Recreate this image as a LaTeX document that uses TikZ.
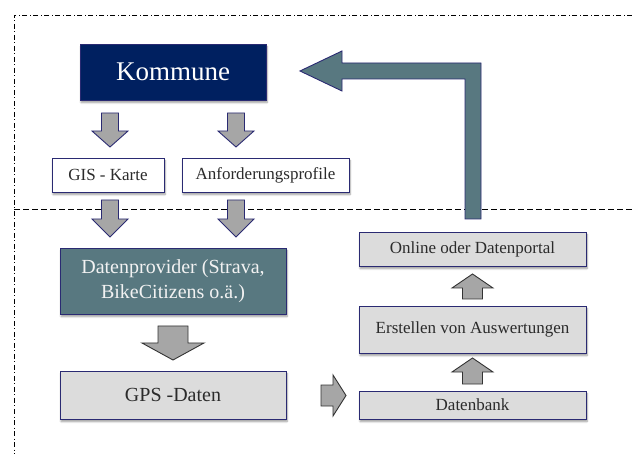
\documentclass[tikz,border=0pt]{standalone}
\usepackage{fontspec}
\setmainfont{Liberation Serif}
\usetikzlibrary{shadows.blur}
\definecolor{navy}{HTML}{002060}
\definecolor{edgeblue}{HTML}{2A2A72}
\definecolor{tealgray}{HTML}{587880}
\definecolor{arrowgray}{HTML}{A6A6A6}
\definecolor{boxgray}{HTML}{DCDCDC}
\definecolor{txt}{HTML}{2B2B2B}
\tikzset{
  box/.style={draw=edgeblue, line width=0.9pt, inner sep=0pt, align=center,
    blur shadow={shadow xshift=1pt, shadow yshift=-2.5pt, shadow blur steps=6, shadow opacity=40}},
  whitebox/.style={box, fill=white, text=txt, font=\fontsize{17}{20}\selectfont},
  graybox/.style={box, fill=boxgray, text=txt, font=\fontsize{17}{20}\selectfont},
  barrowb/.style={draw=edgeblue, fill=arrowgray, line width=0.9pt, line join=miter},
  barrowk/.style={draw=black!80, fill=arrowgray, line width=0.9pt, line join=miter},
}
\begin{document}
\begin{tikzpicture}[x=1pt,y=-1pt]
\useasboundingbox (0,0) rectangle (632,454);
% frame lines
\draw[black, line width=0.7pt, dash pattern=on 5pt off 2.5pt on 1pt off 2.5pt] (632,15) -- (14,15) -- (14,454);
\draw[black, line width=0.7pt, dash pattern=on 6pt off 3pt] (14,209) -- (632,209);
% boxes
\node[box, fill=navy, text=white, minimum width=186pt, minimum height=56pt, font=\fontsize{27}{30}\selectfont] (kom) at (173,72) {Kommune};
\node[whitebox, minimum width=112pt, minimum height=34pt] (gis) at (108,175) {GIS - Karte};
\node[whitebox, minimum width=167pt, minimum height=34pt] (anf) at (265.5,175) {Anforderungsprofile};
\node[box, fill=tealgray, text=white!95!black, minimum width=226pt, minimum height=66pt, font=\fontsize{20}{25}\selectfont] (dp) at (173,281) {Datenprovider (Strava,\\BikeCitizens o.ä.)};
\node[graybox, minimum width=226pt, minimum height=48pt, font=\fontsize{20}{24}\selectfont] (gps) at (173,395) {GPS -Daten};
\node[graybox, minimum width=227pt, minimum height=34pt] (onl) at (472.5,249) {Online oder Datenportal};
\node[graybox, minimum width=227pt, minimum height=47pt] (ers) at (472.5,329.5) {Erstellen von Auswertungen};
\node[graybox, minimum width=227pt, minimum height=28pt] (db) at (472.5,405) {Datenbank};
% down block arrows (top)
\foreach \cx in {110,236}{
  \draw[barrowb] (\cx-8.5,113) -- (\cx+8.5,113) -- (\cx+8.5,131) -- (\cx+18,131) -- (\cx,147) -- (\cx-18,131) -- (\cx-8.5,131) -- cycle;
  \draw[barrowb] (\cx-8.5,200) -- (\cx+8.5,200) -- (\cx+8.5,219) -- (\cx+18,219) -- (\cx,237) -- (\cx-18,219) -- (\cx-8.5,219) -- cycle;
}
% big down arrow
\draw[barrowk] (158,326) -- (188,326) -- (188,343) -- (204,343) -- (173,360) -- (142,343) -- (158,343) -- cycle;
% right arrow
\draw[barrowk] (321,385) -- (333,385) -- (333,375) -- (346,395.5) -- (333,416) -- (333,406) -- (321,406) -- cycle;
% up arrows
\foreach \tip/\hb/\bot in {358/372/384, 274/288/299}{
  \draw[barrowk] (472.5,\tip) -- (493,\hb) -- (482.5,\hb) -- (482.5,\bot) -- (462.5,\bot) -- (462.5,\hb) -- (452,\hb) -- cycle;
}
% bent feedback arrow
\draw[draw=edgeblue, fill=tealgray, line width=0.9pt, line join=miter]
  (465,219) -- (465,79) -- (342,79) -- (342,91) -- (300,71) -- (342,51) -- (342,63) -- (481,63) -- (481,219) -- cycle;
\end{tikzpicture}
\end{document}
